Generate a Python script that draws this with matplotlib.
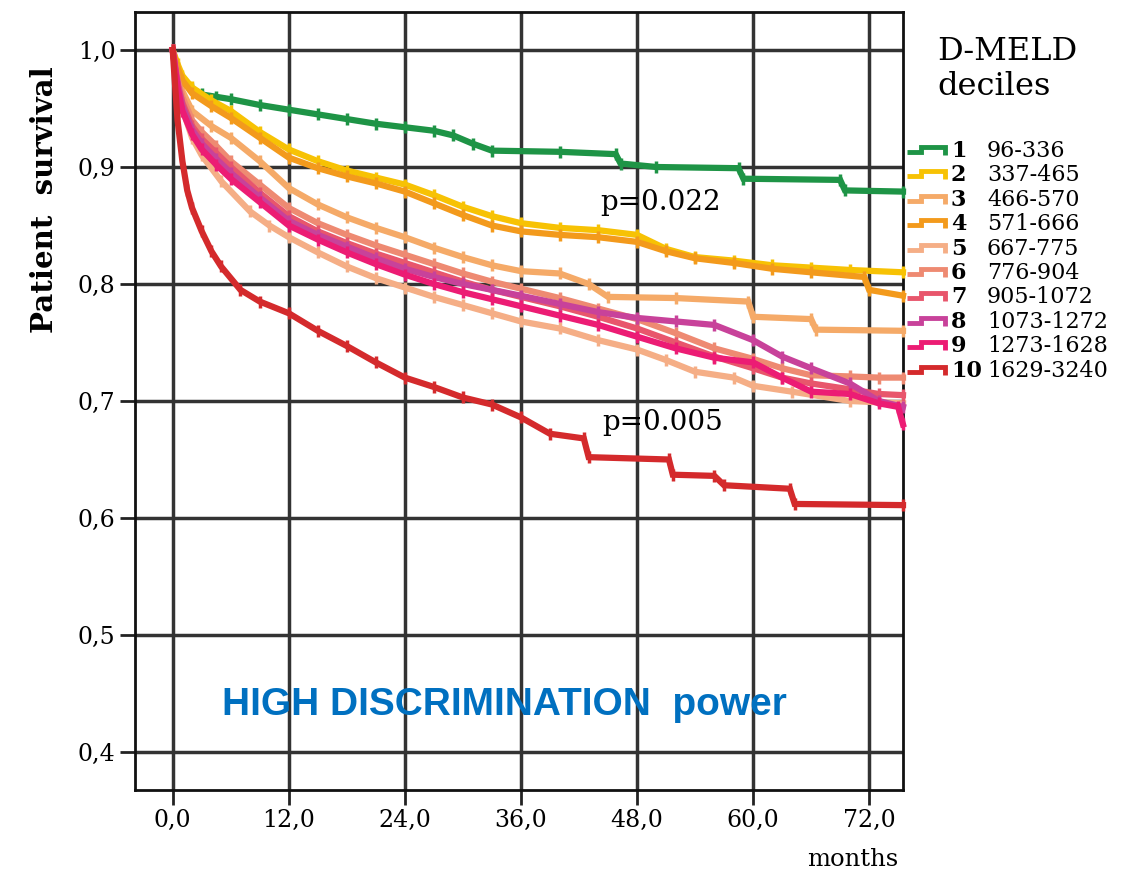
import matplotlib
matplotlib.use("Agg")
import matplotlib.pyplot as plt

# survival curves (months, survival)
t1 = [0, 0.3, 1, 2, 3, 4.5, 6, 9, 12, 15, 18, 21, 24, 27, 29, 31, 33, 40, 45.8, 46.3, 50, 58.5, 59, 69, 69.5, 75.5]
s1 = [1.0, 0.985, 0.975, 0.967, 0.962, 0.960, 0.958, 0.953, 0.949, 0.945, 0.941, 0.937, 0.934, 0.931,
      0.927, 0.920, 0.914, 0.913, 0.911, 0.903, 0.900, 0.899, 0.890, 0.889, 0.880, 0.879]

t2 = [0, 0.5, 1, 2, 4, 6, 9, 12, 15, 18, 21, 24, 27, 30, 33, 36, 40, 44, 48, 51, 54, 58, 62, 66, 70, 75.5]
s2 = [1.0, 0.988, 0.978, 0.968, 0.957, 0.948, 0.930, 0.915, 0.905, 0.897, 0.891, 0.885, 0.876, 0.866,
      0.858, 0.852, 0.848, 0.846, 0.842, 0.830, 0.823, 0.820, 0.816, 0.814, 0.812, 0.810]

t3 = [0, 0.5, 1, 2, 4, 6, 9, 12, 15, 18, 21, 24, 27, 30, 33, 36, 40, 43, 45, 52, 59.5, 60, 66, 66.5, 75.5]
s3 = [1.0, 0.980, 0.965, 0.948, 0.935, 0.925, 0.905, 0.882, 0.868, 0.857, 0.848, 0.840, 0.831, 0.823,
      0.816, 0.811, 0.809, 0.800, 0.789, 0.788, 0.785, 0.772, 0.770, 0.761, 0.760]

t4 = [0, 0.5, 1, 2, 4, 6, 9, 12, 15, 18, 21, 24, 27, 30, 33, 36, 40, 44, 48, 51, 54, 58, 62, 66, 71.5, 72, 75.5]
s4 = [1.0, 0.985, 0.974, 0.963, 0.952, 0.942, 0.925, 0.908, 0.899, 0.892, 0.886, 0.879, 0.869, 0.859,
      0.850, 0.845, 0.842, 0.840, 0.836, 0.828, 0.822, 0.818, 0.813, 0.810, 0.806, 0.795, 0.790]

t5 = [0, 0.5, 1, 2, 3, 5, 8, 10, 12, 15, 18, 21, 24, 27, 30, 33, 36, 40, 44, 48, 51, 54, 58, 60, 64, 70, 75.5]
s5 = [1.0, 0.970, 0.950, 0.925, 0.910, 0.888, 0.862, 0.850, 0.840, 0.827, 0.815, 0.805, 0.797, 0.789,
      0.782, 0.775, 0.768, 0.762, 0.752, 0.744, 0.735, 0.725, 0.720, 0.713, 0.708, 0.700, 0.698]

t6 = [0, 0.5, 1, 2, 3, 4.5, 6, 9, 12, 15, 18, 21, 24, 27, 30, 33, 36, 40, 44, 48, 52, 56, 60, 63, 66, 70, 73, 75.5]
s6 = [1.0, 0.975, 0.960, 0.940, 0.930, 0.918, 0.905, 0.885, 0.865, 0.852, 0.842, 0.833, 0.825, 0.817,
      0.809, 0.802, 0.796, 0.788, 0.779, 0.770, 0.758, 0.745, 0.736, 0.728, 0.722, 0.721, 0.720, 0.720]

t7 = [0, 0.5, 1, 2, 3, 4.5, 6, 9, 12, 15, 18, 21, 24, 27, 30, 33, 36, 40, 44, 48, 52, 56, 60, 63, 66, 70, 73, 75.5]
s7 = [1.0, 0.972, 0.955, 0.935, 0.924, 0.912, 0.900, 0.878, 0.858, 0.845, 0.835, 0.826, 0.818, 0.810,
      0.802, 0.795, 0.789, 0.781, 0.772, 0.762, 0.750, 0.738, 0.728, 0.720, 0.715, 0.710, 0.706, 0.705]

t8 = [0, 0.5, 1, 2, 3, 4.5, 6, 9, 12, 15, 18, 21, 24, 27, 30, 33, 36, 40, 44, 48, 52, 56, 60, 63, 66, 70, 73, 75.5]
s8 = [1.0, 0.970, 0.952, 0.932, 0.920, 0.907, 0.895, 0.874, 0.854, 0.842, 0.832, 0.822, 0.813, 0.806,
      0.800, 0.795, 0.790, 0.783, 0.776, 0.771, 0.768, 0.765, 0.752, 0.738, 0.728, 0.715, 0.700, 0.695]

t9 = [0, 0.5, 1, 2, 3, 4.5, 6, 9, 12, 15, 18, 21, 24, 27, 30, 33, 36, 40, 44, 48, 52, 56, 60, 63, 66, 70, 73, 75, 75.5]
s9 = [1.0, 0.968, 0.948, 0.928, 0.915, 0.902, 0.890, 0.870, 0.850, 0.838, 0.827, 0.817, 0.808, 0.800,
      0.793, 0.787, 0.781, 0.773, 0.765, 0.755, 0.745, 0.737, 0.733, 0.720, 0.708, 0.706, 0.698, 0.695, 0.680]

t10 = [0, 0.2, 0.5, 1, 1.5, 2, 3, 4, 5, 7, 9, 12, 15, 18, 21, 24, 27, 30, 33, 36, 39, 42.5, 43, 51.3, 51.7,
       56, 57, 63.8, 64.3, 75.5]
s10 = [1.0, 0.975, 0.940, 0.905, 0.880, 0.865, 0.845, 0.828, 0.815, 0.795, 0.785, 0.775, 0.760, 0.747,
       0.733, 0.720, 0.712, 0.703, 0.697, 0.686, 0.672, 0.668, 0.652, 0.650, 0.637, 0.636, 0.628, 0.625,
       0.612, 0.611]

times = [t1, t2, t3, t4, t5, t6, t7, t8, t9, t10]
survival = [s1, s2, s3, s4, s5, s6, s7, s8, s9, s10]
decile_nums = ["1", "2", "3", "4", "5", "6", "7", "8", "9", "10"]
decile_ranges = ["96-336", "337-465", "466-570", "571-666", "667-775", "776-904",
                 "905-1072", "1073-1272", "1273-1628", "1629-3240"]
colors = ["#1E9446", "#F7C204", "#F5AA68", "#F39A1C", "#F5AE86", "#EE8A72",
          "#E8566C", "#C8429A", "#EC1C74", "#D42A2C"]

x_ticks = [0, 12, 24, 36, 48, 60, 72]
x_labels = ["0,0", "12,0", "24,0", "36,0", "48,0", "60,0", "72,0"]
y_ticks = [0.4, 0.5, 0.6, 0.7, 0.8, 0.9, 1.0]
y_labels = ["0,4", "0,5", "0,6", "0,7", "0,8", "0,9", "1,0"]

W, H = 1124, 871
serif = "DejaVu Serif"

fig = plt.figure(figsize=(W / 100, H / 100), dpi=100)
ax = fig.add_axes([135 / W, 1 - 790 / H, (903 - 135) / W, (790 - 12) / H])

ax.set_xlim(-3.9, 75.5)
ax.set_ylim(0.3675, 1.0325)
ax.set_xticks(x_ticks)
ax.set_xticklabels(x_labels, family=serif, fontsize=17)
ax.set_yticks(y_ticks)
ax.set_yticklabels(y_labels, family=serif, fontsize=17)
ax.tick_params(direction="out", length=11, width=2, color="#222222", pad=3)
ax.grid(True, color="#333333", linewidth=2.5, zorder=0)
ax.set_axisbelow(True)
for sp in ax.spines.values():
    sp.set_linewidth(2)
    sp.set_color("#111111")

# KM curves: dense steps look like a thick slanted band, censor ticks on top
for t, s, c in zip(times, survival, colors):
    ax.plot(t, s, color=c, lw=4.5, marker="|", markersize=9, markeredgewidth=2.5,
            solid_joinstyle="miter", zorder=3, clip_on=False)

ax.text(44.2, 0.863, "p=0.022", family=serif, fontsize=20, ha="left", va="baseline", zorder=5)
ax.text(44.4, 0.675, "p=0.005", family=serif, fontsize=20, ha="left", va="baseline", zorder=5)
ax.text(5.1, 0.4316, "HIGH DISCRIMINATION  power", family="Liberation Sans",
        fontweight="bold", fontsize=28, color="#0070C0", ha="left", va="baseline", zorder=6)

# overlay in pixel coordinates for the outside texts and the legend
ov = fig.add_axes([0, 0, 1, 1])
ov.set_xlim(0, W)
ov.set_ylim(H, 0)
ov.axis("off")

ov.text(45, 200, "Patient  survival", family=serif, fontweight="bold", fontsize=21,
        rotation=90, ha="center", va="center")
ov.text(853, 866, "months", family=serif, fontsize=17.5, ha="center", va="baseline")
ov.text(937, 60, "D-MELD", family=serif, fontsize=23, ha="left", va="baseline")
ov.text(937, 95, "deciles", family=serif, fontsize=23, ha="left", va="baseline")

glyph_x = [0, 14, 14, 38, 38]
glyph_y = [-5, -5, -10, -10, -2]
for i, (num, rng, c) in enumerate(zip(decile_nums, decile_ranges, colors)):
    base = 157 + 24.4 * i
    ov.plot([907 + gx for gx in glyph_x], [base + gy for gy in glyph_y], color=c, lw=3.5,
            solid_joinstyle="miter", solid_capstyle="butt")
    ov.text(951, base, num, family=serif, fontweight="bold", fontsize=16, ha="left", va="baseline")
    ov.text(987, base, rng, family=serif, fontsize=16, ha="left", va="baseline")

fig.savefig("out.png", dpi=100)
